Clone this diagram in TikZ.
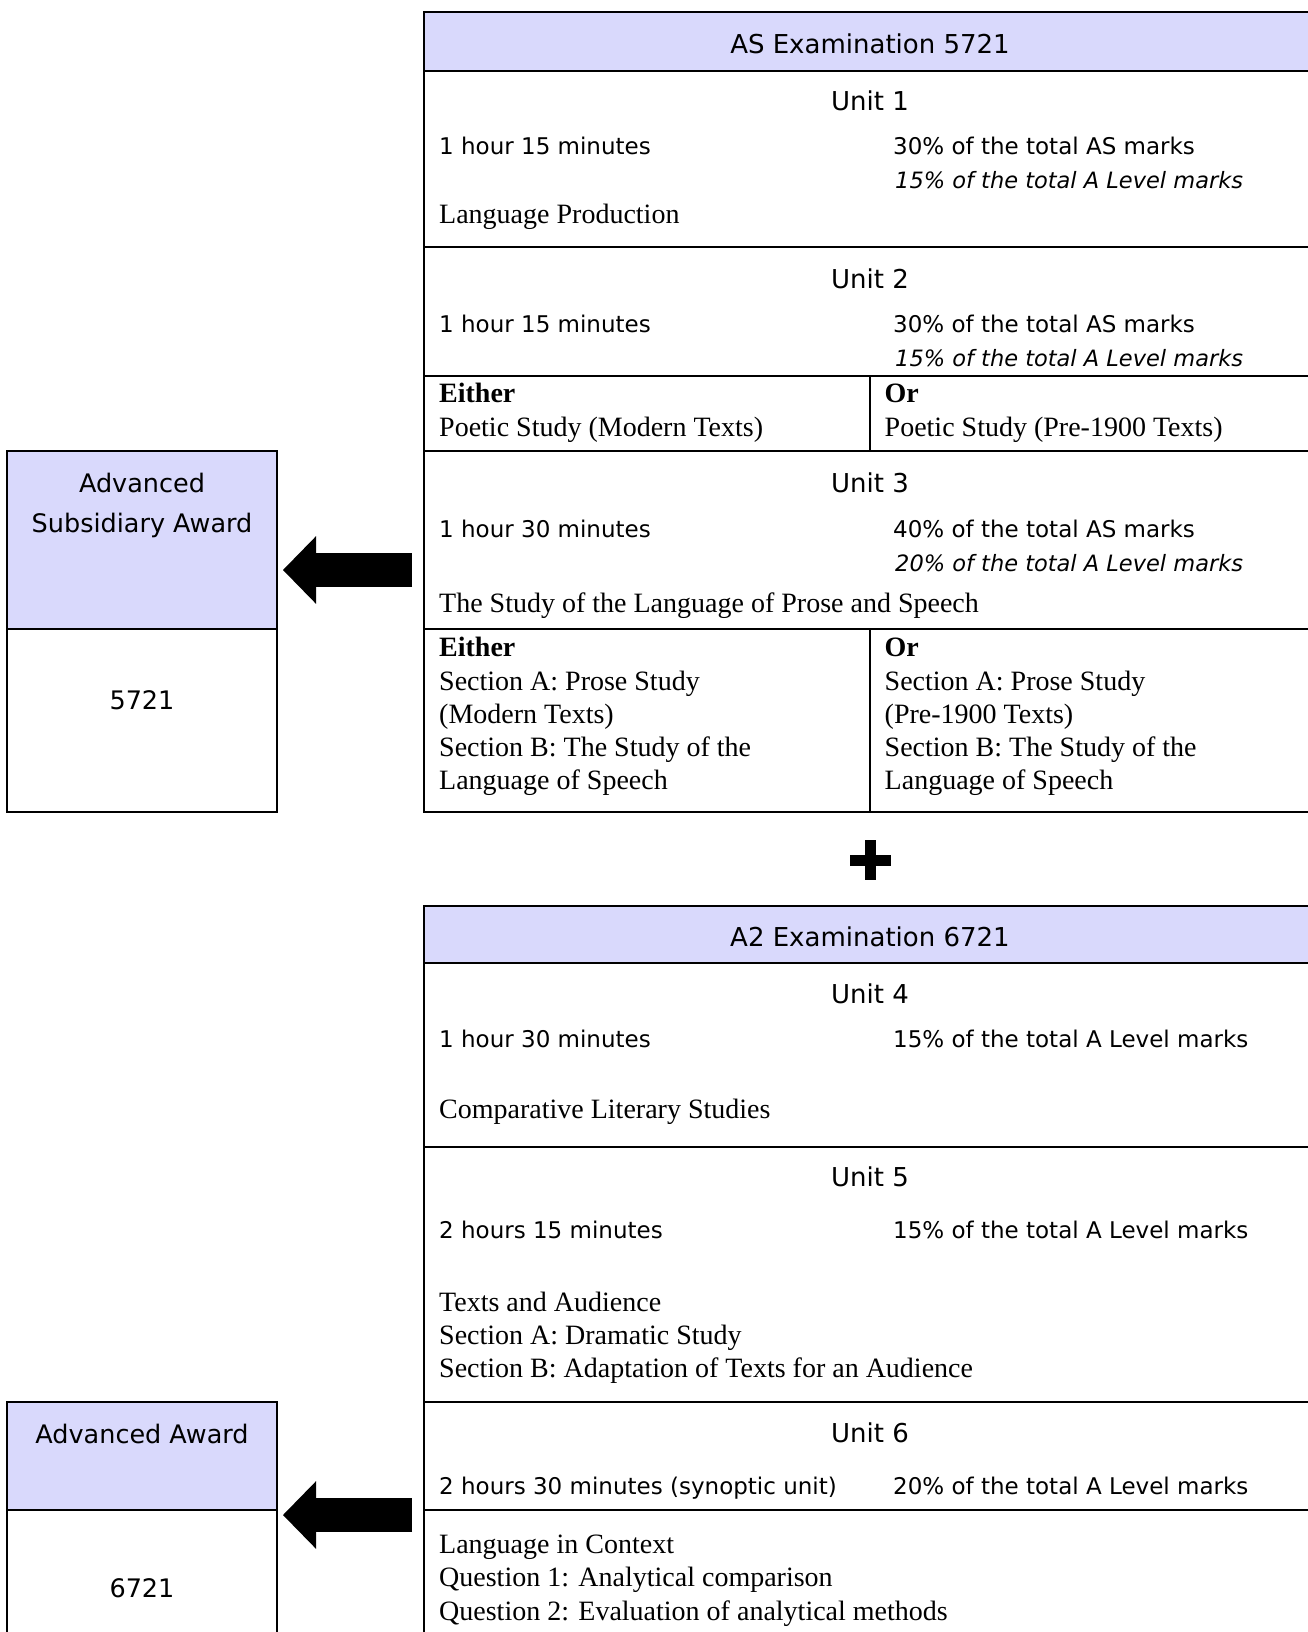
\documentclass[tikz,border=0pt]{standalone}
\usepackage{fontspec}
\setmainfont{Liberation Serif}
\setsansfont{DejaVu Sans}
\usetikzlibrary{arrows.meta}
\definecolor{lav}{RGB}{217,217,252}
\begin{document}
\begin{tikzpicture}[x=1pt,y=-1pt,
  frame/.style={draw=black,line width=2pt},
  hdr/.style={font=\sffamily\fontsize{26}{31}\selectfont, anchor=base, inner sep=0pt},
  body/.style={font=\sffamily\fontsize{23}{28}\selectfont, anchor=base west, inner sep=0pt},
  ital/.style={font=\sffamily\itshape\fontsize{22.5}{28}\selectfont, anchor=base west, inner sep=0pt},
  ser/.style={font=\rmfamily\fontsize{28}{33}\selectfont, anchor=base west, inner sep=0pt},
  serb/.style={font=\rmfamily\bfseries\fontsize{28}{33}\selectfont, anchor=base west, inner sep=0pt},
  award/.style={font=\sffamily\fontsize{25.5}{39.5}\selectfont, align=center, anchor=base, inner sep=0pt},
  bigarrow/.style={line width=34pt, -{Triangle[length=33pt,width=67.6pt,line width=0pt]}},
]
\useasboundingbox (0,0) rectangle (1308,1632);
\clip (0,0) rectangle (1308,1632);
\def\R{1317}
% ---------- table 1 ----------
\fill[lav] (423.5,12.5) rectangle (\R,70.8);
\draw[frame] (423.5,12.5) rectangle (\R,811.7);
\foreach \yy in {70.8,246.6,375.7,450.6,628.5}{\draw[frame] (423.5,\yy) -- (\R,\yy);}
\draw[frame] (870,375.7) -- (870,450.6);
\draw[frame] (870,628.5) -- (870,811.7);
% ---------- plus ----------
\fill (850,854.5) rectangle (890.7,865.5);
\fill (864.8,840) rectangle (875.8,880);
% ---------- table 2 ----------
\fill[lav] (423.5,906) rectangle (\R,962.6);
\draw[frame] (423.5,906) rectangle (\R,1645);
\foreach \yy in {962.6,1146.7,1401.7,1510}{\draw[frame] (423.5,\yy) -- (\R,\yy);}
% ---------- left boxes ----------
\fill[lav] (7.3,450.6) rectangle (276.8,628.5);
\draw[frame] (7.3,450.6) rectangle (276.8,811.7);
\draw[frame] (7.3,628.5) -- (276.8,628.5);
\fill[lav] (7.3,1401.7) rectangle (276.8,1510);
\draw[frame] (7.3,1401.7) rectangle (276.8,1645);
\draw[frame] (7.3,1510) -- (276.8,1510);
% ---------- arrows ----------
\coordinate (a1s) at (412,570);
\coordinate (a1e) at (283,570);
\draw[bigarrow] (a1s) -- (a1e);
\coordinate (a2s) at (412,1515);
\coordinate (a2e) at (283,1515);
\draw[bigarrow] (a2s) -- (a2e);
% ---------- award texts ----------
\node[award] (asaward) at (142,532) {Advanced\\Subsidiary Award};
\node[award] (ascode) at (142,709) {5721};
\node[award] (aaward) at (142,1443) {Advanced Award};
\node[award] (acode) at (142,1597) {6721};
% ---------- table 1 texts ----------
\node[hdr] (ash) at (870,54) {AS Examination 5721};
\node[hdr] (u1) at (870,111) {Unit 1};
\node[body] (u1t) at (439,155) {1 hour 15 minutes};
\node[body] (u1m) at (893,155) {30\% of the total AS marks};
\node[ital] (u1i) at (895,189) {15\% of the total A Level marks};
\node[ser] (u1n) at (439,223) {Language Production};
\node[hdr] (u2) at (870,288) {Unit 2};
\node[body] (u2t) at (439,332) {1 hour 15 minutes};
\node[body] (u2m) at (893,332) {30\% of the total AS marks};
\node[ital] (u2i) at (895,366) {15\% of the total A Level marks};
\node[serb] (u2e) at (439,402) {Either};
\node[ser] (u2e1) at (439,436) {Poetic Study (Modern Texts)};
\node[serb] (u2o) at (884.5,402) {Or};
\node[ser] (u2o1) at (884.5,436) {Poetic Study (Pre-1900 Texts)};
\node[hdr] (u3) at (870,492) {Unit 3};
\node[body] (u3t) at (439,537) {1 hour 30 minutes};
\node[body] (u3m) at (893,537) {40\% of the total AS marks};
\node[ital] (u3i) at (895,571) {20\% of the total A Level marks};
\node[ser] (u3n) at (439,612.5) {The Study of the Language of Prose and Speech};
\node[serb] (u3e) at (439,656) {Either};
\node[ser] (u3e1) at (439,690) {Section A: Prose Study};
\node[ser] (u3e2) at (439,723) {(Modern Texts)};
\node[ser] (u3e3) at (439,756) {Section B: The Study of the};
\node[ser] (u3e4) at (439,789) {Language of Speech};
\node[serb] (u3o) at (884.5,656) {Or};
\node[ser] (u3o1) at (884.5,690) {Section A: Prose Study};
\node[ser] (u3o2) at (884.5,723) {(Pre-1900 Texts)};
\node[ser] (u3o3) at (884.5,756) {Section B: The Study of the};
\node[ser] (u3o4) at (884.5,789) {Language of Speech};
% ---------- table 2 texts ----------
\node[hdr] (a2h) at (870,946) {A2 Examination 6721};
\node[hdr] (u4) at (870,1003) {Unit 4};
\node[body] (u4t) at (439,1047.5) {1 hour 30 minutes};
\node[body] (u4m) at (893,1047.5) {15\% of the total A Level marks};
\node[ser] (u4n) at (439,1118) {Comparative Literary Studies};
\node[hdr] (u5) at (870,1186) {Unit 5};
\node[body] (u5t) at (439,1238) {2 hours 15 minutes};
\node[body] (u5m) at (893,1238) {15\% of the total A Level marks};
\node[ser] (u5n) at (439,1311) {Texts and Audience};
\node[ser] (u5a) at (439,1344) {Section A: Dramatic Study};
\node[ser] (u5b) at (439,1377.5) {Section B: Adaptation of Texts for an Audience};
\node[hdr] (u6) at (870,1442) {Unit 6};
\node[body] (u6t) at (439,1494) {2 hours 30 minutes (synoptic unit)};
\node[body] (u6m) at (893,1494) {20\% of the total A Level marks};
\node[ser] (u6n) at (439,1553) {Language in Context};
\node[ser] (u6a) at (439,1586.5) {Question 1: Analytical comparison};
\node[ser] (u6b) at (439,1620) {Question 2: Evaluation of analytical methods};
\end{tikzpicture}
\end{document}
